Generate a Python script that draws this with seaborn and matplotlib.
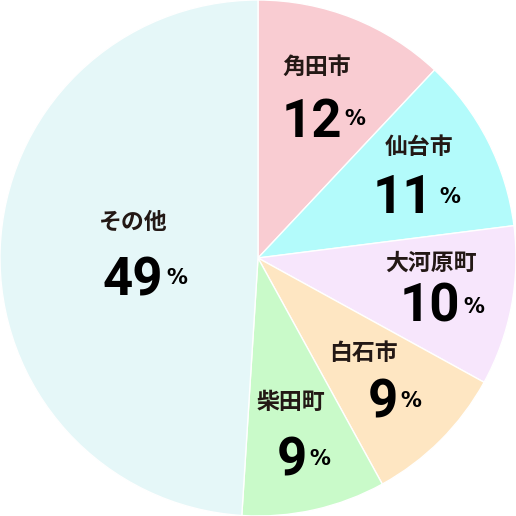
import matplotlib
matplotlib.use("Agg")
import matplotlib.pyplot as plt
import seaborn as sns

# ---- data ----
categories = ["角田市", "仙台市", "大河原町", "白石市", "柴田町", "その他"]
shares = [12, 11, 10, 9, 9, 49]
pct_labels = ["12", "11", "10", "9", "9", "49"]

# ---- style ----
colors = ["#F9CCD2", "#B3FBFB", "#F7E6FC", "#FEE6C2", "#C9FAC9", "#E5F7F8"]

# ---- layout (pixel positions of annotations in the 516 px figure) ----
label_px = [(317, 67), (419, 148), (431, 263), (363, 353), (291, 402), (133, 222)]
num_px = [(342, 137), (433, 213), (460, 322), (398, 417), (307, 475), (163, 295)]
pct_px = [(344, 125), (439, 203), (463, 313), (400, 407), (309, 465), (166, 284)]

sns.set_theme(style="white")
plt.rcParams["font.family"] = ["Noto Sans CJK JP", "DejaVu Sans"]

fig = plt.figure(figsize=(5.16, 5.16), dpi=100)
ax = fig.add_axes([0, 0, 1, 1])
ax.pie(shares, colors=colors, startangle=90, counterclock=False, radius=1.0,
       wedgeprops=dict(edgecolor="white", linewidth=1.0))
ax.set_xlim(-1, 1)
ax.set_ylim(-1, 1)
ax.set_aspect("equal")
ax.axis("off")


def to_data(px, py):
    return (px - 258) / 258.0, (258 - py) / 258.0


for cat, num, lp, np_, pp in zip(categories, pct_labels, label_px, num_px, pct_px):
    x, y = to_data(*lp)
    ax.text(x, y, cat, ha="center", va="center", fontsize=16.5, fontweight="bold",
            color="#231815", family=["Noto Sans CJK JP", "DejaVu Sans"])
    x, y = to_data(*np_)
    ax.text(x, y, num, ha="right", va="baseline", fontsize=38, fontweight="bold",
            color="#000000", family=["Roboto", "DejaVu Sans"])
    x, y = to_data(*pp)
    ax.text(x, y, "%", ha="left", va="baseline", fontsize=15, fontweight="bold",
            color="#000000", family=["DejaVu Sans"])

fig.savefig("out.png", dpi=100, facecolor="white")
